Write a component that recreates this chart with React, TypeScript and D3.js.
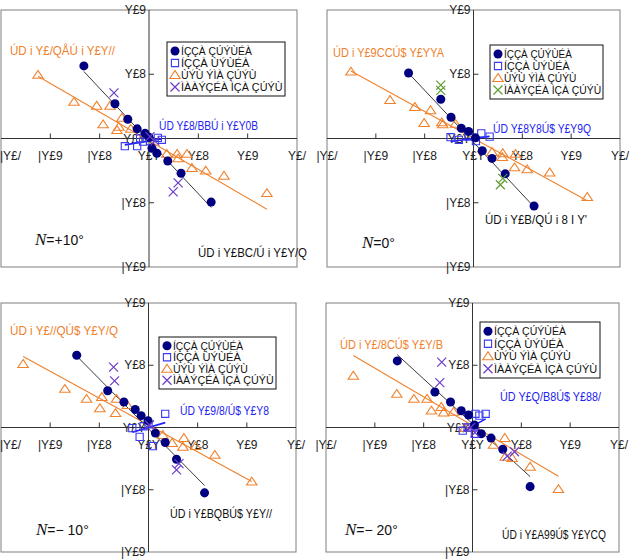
import React from "react";
import * as d3 from "d3";

// Shared axis ticks and their labels
const xTicks = [-0.3, -0.2, -0.1, 0, 0.1, 0.2, 0.3];
const xTickLabels = ["|Y£/", "|Y£9", "|Y£8", "Y£Y", "Y£8", "Y£9", "Y£/"];
const yTicks = [-0.2, -0.1, 0, 0.1, 0.2];
const yTickLabels = ["|Y£9", "|Y£8", "Y£Y", "Y£8", "Y£9"];

// Legend entries (circle, square, triangle, cross)
const legendLabels = ["ÍÇÇÀ ÇÚÝÙÉÀ", "ÍÇÇÀ ÙÝÙÉÀ", "ÙÝÙ ÝÌÀ ÇÚÝÙ", "ÌÀÀÝÇÉÀ ÌÇÀ ÇÚÝÙ"];

type Pt = [number, number];

// ---- N = +10° ----
const p10Circles: Pt[] = [[-0.132, 0.113], [-0.069, 0.054], [-0.043, 0.03], [-0.024, 0.015], [-0.008, 0.008], [0.0, 0.002], [0.006, -0.015], [0.016, -0.023], [0.038, -0.035], [0.065, -0.054], [0.126, -0.099]];
const p10Squares: Pt[] = [[-0.049, -0.012], [-0.024, -0.012], [-0.012, -0.005], [-0.018, 0.0], [0.002, -0.004], [0.018, 0.001], [0.026, -0.002]];
const p10Triangles: Pt[] = [[-0.225, 0.099], [-0.152, 0.057], [-0.106, 0.051], [-0.079, 0.051], [-0.093, 0.022], [-0.055, 0.032], [-0.061, 0.018], [-0.037, 0.015], [-0.065, 0.013], [0.036, -0.024], [0.057, -0.024], [0.059, -0.031], [0.077, -0.024], [0.087, -0.046], [0.115, -0.05], [0.152, -0.058], [0.239, -0.085]];
const p10Crosses: Pt[] = [[-0.071, 0.071], [0.059, -0.069], [0.049, -0.083], [0.002, 0.003], [0.012, -0.004]];
const p10Fits = { circle: [-0.82, -0.004], square: [0.12, -0.004], triangle: [-0.446, -0.0034] };
const p10Equations = ["ÚD i Y£/QÅÚ i Y£Y//", "ÚD Y£8/BBÚ i Y£Y0B", "ÚD i Y£BC/Ú i Y£Y/Q"];
const p10Angle = "=+10°";

// ---- N = 0° ----
const p0Circles: Pt[] = [[-0.133, 0.102], [-0.067, 0.061], [-0.046, 0.033], [-0.025, 0.016], [-0.01, 0.011], [0.004, 0.001], [0.018, -0.019], [0.038, -0.031], [0.065, -0.055], [0.124, -0.105]];
const p0Squares: Pt[] = [[-0.047, 0.002], [-0.03, -0.002], [-0.01, 0.003], [0.005, -0.004], [0.016, 0.008], [0.033, 0.003]];
const p0Triangles: Pt[] = [[-0.251, 0.104], [-0.171, 0.06], [-0.12, 0.049], [-0.088, 0.044], [-0.101, 0.024], [-0.065, 0.025], [-0.063, 0.022], [-0.037, 0.023], [0.038, -0.021], [0.06, -0.023], [0.059, -0.029], [0.086, -0.024], [0.084, -0.045], [0.11, -0.048], [0.156, -0.053], [0.233, -0.091]];
const p0Crosses: Pt[] = [[-0.067, 0.083], [-0.067, 0.075], [0.06, -0.062], [0.055, -0.072]];
const p0Fits = { circle: [-0.81, -0.006], square: [0.1, 0.0], triangle: [-0.417, 0.0003] };
const p0Equations = ["ÚD i Y£9CCÚ$ Y£YYA", "ÚD Y£8Y8Ú$ Y£Y9Q", "ÚD i Y£B/QÚ i 8 I Y'"];
const p0Angle = "=0°";

// ---- N = −10° ----
const m10Circles: Pt[] = [[-0.146, 0.116], [-0.083, 0.059], [-0.05, 0.041], [-0.027, 0.029], [-0.015, 0.019], [-0.001, 0.011], [0.014, -0.009], [0.034, -0.024], [0.057, -0.051], [0.114, -0.105]];
const m10Squares: Pt[] = [[-0.033, -0.001], [-0.018, -0.015], [-0.01, 0.002], [0.0, 0.005], [0.009, -0.03], [0.034, 0.022]];
const m10Triangles: Pt[] = [[-0.255, 0.102], [-0.17, 0.062], [-0.126, 0.046], [-0.095, 0.049], [-0.065, 0.046], [-0.099, 0.031], [-0.067, 0.023], [-0.043, 0.036], [0.029, -0.012], [0.048, -0.025], [0.072, -0.017], [0.07, -0.031], [0.096, -0.03], [0.135, -0.044], [0.21, -0.087]];
const m10Crosses: Pt[] = [[-0.071, 0.097], [-0.069, 0.075], [0.057, -0.068], [0.062, -0.058], [0.002, 0.004]];
const m10Fits = { circle: [-0.8, -0.002], square: [0.23, 0.0], triangle: [-0.432, 0.004] };
const m10Equations = ["ÚD i Y£//QÚ$ Y£Y/Q", "ÚD Y£9/8/Ú$ Y£Y8", "ÚD i Y£BQBÚ$ Y£Y//"];
const m10Angle = "=− 10°";

// ---- N = −20° ----
const m20Circles: Pt[] = [[-0.154, 0.107], [-0.077, 0.057], [-0.045, 0.041], [-0.023, 0.027], [-0.008, 0.02], [0.004, 0.004], [0.018, -0.01], [0.038, -0.017], [0.062, -0.035], [0.118, -0.095]];
const m20Squares: Pt[] = [[-0.02, -0.005], [-0.01, 0.0], [0.005, -0.01], [0.006, 0.022], [0.014, 0.019], [0.027, 0.022]];
const m20Triangles: Pt[] = [[-0.244, 0.083], [-0.155, 0.054], [-0.12, 0.046], [-0.093, 0.046], [-0.084, 0.027], [-0.064, 0.033], [-0.059, 0.024], [-0.039, 0.025], [-0.016, -0.001], [0.043, -0.028], [0.066, -0.017], [0.067, -0.047], [0.081, -0.049], [0.118, -0.063], [0.176, -0.099]];
const m20Crosses: Pt[] = [[-0.063, 0.105], [-0.067, 0.072], [0.071, -0.046], [0.086, -0.039], [0.005, -0.008], [-0.004, 0.0]];
const m20Fits = { circle: [-0.72, 0.006], square: [0.44, 0.002], triangle: [-0.462, 0.003] };
const m20Equations = ["ÚD i Y£/8CÚ$ Y£Y/B", "ÚD Y£Q/B8Ú$ Y£88/", "ÚD i Y£A99Ú$ Y£YCQ"];
const m20Angle = "=− 20°";

const NAVY = "#000080";
const BLUE = "#3a3af2";
const ORANGE = "#f0812c";
const PURPLE = "#6a3cc8";
const GREEN = "#5c9e2e";

type Box = { x: number; y: number; w: number; h: number };
type TextPos = { x: number; y: number; w: number };

interface PanelSpec {
  frame: Box;
  circles: Pt[];
  squares: Pt[];
  triangles: Pt[];
  crosses: Pt[];
  fits: { circle: number[]; square: number[]; triangle: number[] };
  equations: string[];
  angle: string;
  crossColor: string;
  legend: Box;
  eqPos: TextPos[]; // triangle, square, circle equation positions
  anglePos: { x: number; y: number };
}

const panels: PanelSpec[] = [
  {
    frame: { x: 1, y: 10, w: 296, h: 257 },
    circles: p10Circles, squares: p10Squares, triangles: p10Triangles, crosses: p10Crosses,
    fits: p10Fits, equations: p10Equations, angle: p10Angle, crossColor: PURPLE,
    legend: { x: 167, y: 42, w: 118, h: 54 },
    eqPos: [{ x: 10, y: 55, w: 105 }, { x: 159, y: 130, w: 99 }, { x: 198, y: 257, w: 109 }],
    anglePos: { x: 35, y: 245 },
  },
  {
    frame: { x: 327, y: 10, w: 293, h: 257 },
    circles: p0Circles, squares: p0Squares, triangles: p0Triangles, crosses: p0Crosses,
    fits: p0Fits, equations: p0Equations, angle: p0Angle, crossColor: GREEN,
    legend: { x: 490, y: 45, w: 113, h: 54 },
    eqPos: [{ x: 333, y: 57, w: 111 }, { x: 493, y: 133, w: 98 }, { x: 485, y: 224, w: 102 }],
    anglePos: { x: 362, y: 248 },
  },
  {
    frame: { x: 1, y: 303, w: 295, h: 249 },
    circles: m10Circles, squares: m10Squares, triangles: m10Triangles, crosses: m10Crosses,
    fits: m10Fits, equations: m10Equations, angle: m10Angle, crossColor: PURPLE,
    legend: { x: 159, y: 337, w: 117, h: 52 },
    eqPos: [{ x: 10, y: 335, w: 108 }, { x: 180, y: 415, w: 89 }, { x: 170, y: 518, w: 102 }],
    anglePos: { x: 36, y: 535 },
  },
  {
    frame: { x: 326, y: 303, w: 293, h: 249 },
    circles: m20Circles, squares: m20Squares, triangles: m20Triangles, crosses: m20Crosses,
    fits: m20Fits, equations: m20Equations, angle: m20Angle, crossColor: PURPLE,
    legend: { x: 480, y: 322, w: 120, h: 56 },
    eqPos: [{ x: 340, y: 349, w: 103 }, { x: 500, y: 401, w: 101 }, { x: 502, y: 539, w: 104 }],
    anglePos: { x: 345, y: 535 },
  },
];

const FONT = "'Liberation Sans Narrow', 'Arial Narrow', 'Liberation Sans', sans-serif";

const circlePath = d3.symbol().type(d3.symbolCircle).size(64)()!;
const squarePath = d3.symbol().type(d3.symbolSquare).size(52)()!;
const trianglePath = d3.symbol().type(d3.symbolTriangle).size(36)()!;
const crossPath = "M-4.5,-4.5L4.5,4.5M-4.5,4.5L4.5,-4.5";

function Marker({ kind, x, y, color }: { kind: string; x: number; y: number; color: string }) {
  const t = `translate(${x},${y})`;
  if (kind === "circle") return <path d={circlePath} transform={t} fill={NAVY} />;
  if (kind === "square") return <path d={squarePath} transform={t} fill="none" stroke={BLUE} strokeWidth={1.1} />;
  if (kind === "triangle")
    return <path d={trianglePath} transform={`translate(${x},${y + 0.8}) scale(1.15,1)`} fill="none" stroke={ORANGE} strokeWidth={1} />;
  return <path d={crossPath} transform={t} fill="none" stroke={color} strokeWidth={1.2} />;
}

function Panel({ p }: { p: PanelSpec }) {
  const { frame } = p;
  const x = d3.scaleLinear().domain([-0.3, 0.3]).range([frame.x, frame.x + frame.w]);
  const y = d3.scaleLinear().domain([-0.2, 0.2]).range([frame.y + frame.h, frame.y]);
  const x0 = x(0);
  const y0 = y(0);
  const line = d3.line<Pt>().x((d) => x(d[0])).y((d) => y(d[1]));

  const fitLine = (pts: Pt[], coef: number[]) => {
    const [lo, hi] = d3.extent(pts, (d) => d[0]) as [number, number];
    return line([[lo, coef[0] * lo + coef[1]], [hi, coef[0] * hi + coef[1]]]) || "";
  };

  const legendKinds = ["circle", "square", "triangle", "cross"];
  const legendColors = [NAVY, BLUE, ORANGE, p.crossColor];
  const rowH = (p.legend.h - 6) / 4;
  const legendWidths = [0.6, 0.58, 0.64, 0.86];

  return (
    <g>
      {/* frame */}
      <rect x={frame.x} y={frame.y} width={frame.w} height={frame.h} fill="#fff" stroke="#7f7f7f" strokeWidth={1} />
      {/* axes through the origin */}
      <line x1={frame.x} x2={frame.x + frame.w} y1={y0} y2={y0} stroke="#333" strokeWidth={1} />
      <line x1={x0} x2={x0} y1={frame.y} y2={frame.y + frame.h} stroke="#333" strokeWidth={1} />
      {xTicks.filter((t) => t !== 0 && Math.abs(t) < 0.3).map((t) => (
        <line key={"xt" + t} x1={x(t)} x2={x(t)} y1={y0} y2={y0 - 5} stroke="#333" />
      ))}
      {yTicks.filter((t) => t !== 0 && Math.abs(t) < 0.2).map((t) => (
        <line key={"yt" + t} x1={x0} x2={x0 + 5} y1={y(t)} y2={y(t)} stroke="#333" />
      ))}
      {/* tick labels; a label that would run past the page edge is pinned inside it */}
      {xTicks.map((t, i) => {
        const cx = x(t);
        const nearEdge = cx < 12;
        return (
          <text key={"xl" + t} x={nearEdge ? 0 : cx} y={y0 + 21} textAnchor={nearEdge ? "start" : "middle"}
            fontSize={12} fontFamily={FONT} fill="#222">
            {xTickLabels[i]}
          </text>
        );
      })}
      {yTicks.map((t, i) => (
        <text key={"yl" + t} x={x0 - 3} y={y(t) + 4} textAnchor="end" fontSize={12} fontFamily={FONT} fill="#222">
          {yTickLabels[i]}
        </text>
      ))}
      {/* regression lines */}
      <path d={fitLine(p.triangles, p.fits.triangle)} stroke={ORANGE} strokeWidth={1.1} fill="none" />
      <path d={fitLine(p.circles, p.fits.circle)} stroke="#3a3a3a" strokeWidth={1} fill="none" />
      <path d={fitLine(p.squares, p.fits.square)} stroke="#1f1fff" strokeWidth={1.6} fill="none" />
      {/* points */}
      {p.triangles.map((d, i) => <Marker key={"t" + i} kind="triangle" x={x(d[0])} y={y(d[1])} color={ORANGE} />)}
      {p.squares.map((d, i) => <Marker key={"s" + i} kind="square" x={x(d[0])} y={y(d[1])} color={BLUE} />)}
      {p.circles.map((d, i) => <Marker key={"c" + i} kind="circle" x={x(d[0])} y={y(d[1])} color={NAVY} />)}
      {p.crosses.map((d, i) => <Marker key={"x" + i} kind="cross" x={x(d[0])} y={y(d[1])} color={p.crossColor} />)}
      {/* legend */}
      <rect x={p.legend.x} y={p.legend.y} width={p.legend.w} height={p.legend.h} fill="#fff" stroke="#111" strokeWidth={1} />
      {legendLabels.map((lab, i) => {
        const cy = p.legend.y + 3 + rowH * (i + 0.5);
        return (
          <g key={"lg" + i}>
            <Marker kind={legendKinds[i]} x={p.legend.x + 8} y={cy} color={legendColors[i]} />
            <text x={p.legend.x + 14} y={cy + 4} fontSize={11.5} fontFamily={FONT} fill="#111"
              textLength={p.legend.w * legendWidths[i]} lengthAdjust="spacingAndGlyphs">
              {lab}
            </text>
          </g>
        );
      })}
      {/* fit equations */}
      {[ORANGE, "#2323f0", "#111"].map((c, i) => (
        <text key={"eq" + i} x={p.eqPos[i].x} y={p.eqPos[i].y} fontSize={12.5} fontFamily={FONT} fill={c}
          textLength={p.eqPos[i].w} lengthAdjust="spacingAndGlyphs">
          {p.equations[i]}
        </text>
      ))}
      {/* angle label */}
      <text x={p.anglePos.x} y={p.anglePos.y} fontSize={15} fontFamily="'Liberation Serif', serif" fill="#111">
        <tspan fontStyle="italic" fontSize={17}>N</tspan>
        <tspan fontFamily="'Liberation Sans', sans-serif" fontSize={14}>{p.angle}</tspan>
      </text>
    </g>
  );
}

export default function App() {
  return (
    <svg width={631} height={560} style={{ position: "absolute", left: 0, top: 0, background: "#fff" }}>
      <rect x={0} y={0} width={631} height={560} fill="#fff" />
      {panels.map((p, i) => <Panel key={i} p={p} />)}
    </svg>
  );
}
